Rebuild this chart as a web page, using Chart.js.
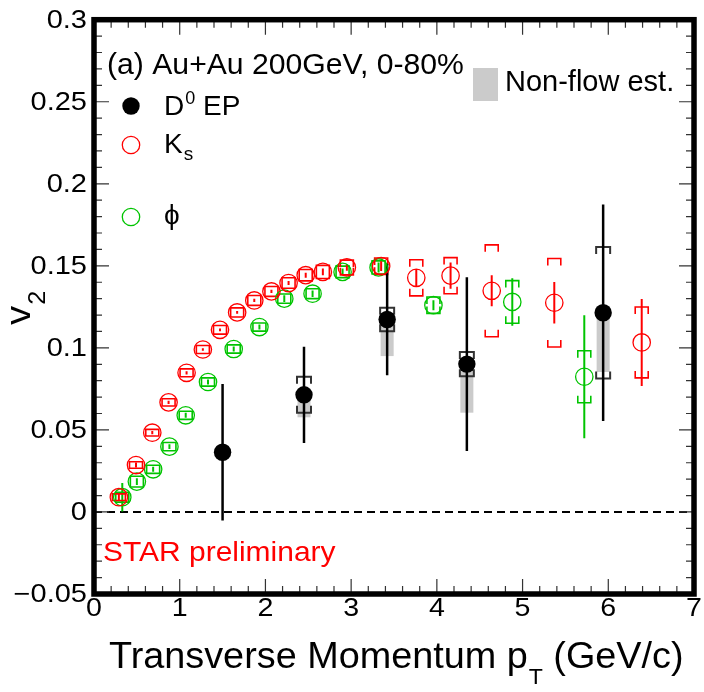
<!DOCTYPE html>
<html>
<head>
<meta charset="utf-8">
<script src="https://cdn.jsdelivr.net/npm/chart.js@4.4.1/dist/chart.umd.min.js"></script>
<style>
    html, body { margin: 0; padding: 0; background: #fff; }
    #wrap { width: 704px; height: 692px; }
</style>
</head>
<body>
<div id="wrap"><canvas id="v2Chart" width="704" height="692"></canvas></div>
<script>
// D0 v2 (event plane method): value, stat error, sys error, non-flow estimate
const d0Pt = [1.50, 2.45, 3.42, 4.35, 5.94];
const d0V2 = [0.0364, 0.0714, 0.1173, 0.0901, 0.1214];
const d0Stat = [0.0416, 0.0293, 0.0340, 0.0530, 0.0660];
const d0Sys = [0, 0.0110, 0.0071, 0.0074, 0.0400];
const d0NonFlow = [0, 0.0137, 0.0223, 0.0296, 0.0361];

// K0s v2
const ksPt = [0.29, 0.49, 0.68, 0.87, 1.08, 1.27, 1.47, 1.67, 1.87, 2.07, 2.27, 2.47, 2.67, 2.95, 3.35, 3.76, 4.16, 4.64, 5.37, 6.39];
const ksV2 = [0.009, 0.0286, 0.0483, 0.0668, 0.0848, 0.099, 0.111, 0.1216, 0.1289, 0.1344, 0.1395, 0.1443, 0.1463, 0.149, 0.1498, 0.1427, 0.144, 0.1348, 0.1275, 0.1033];
const ksStat = [0.002, 0.0015, 0.001, 0.001, 0.001, 0.0008, 0.0008, 0.0008, 0.001, 0.001, 0.0012, 0.0015, 0.002, 0.002, 0.003, 0.0053, 0.008, 0.0094, 0.0127, 0.0265];
const ksSys = [0.002, 0.002, 0.002, 0.0022, 0.0024, 0.0024, 0.0026, 0.0028, 0.003, 0.003, 0.0032, 0.0035, 0.004, 0.0045, 0.005, 0.011, 0.011, 0.028, 0.027, 0.0216];

// phi v2
const phiPt = [0.33, 0.50, 0.69, 0.88, 1.07, 1.33, 1.63, 1.93, 2.22, 2.55, 2.90, 3.32, 3.96, 4.88, 5.72];
const phiV2 = [0.009, 0.0185, 0.026, 0.0398, 0.0589, 0.0792, 0.0993, 0.1127, 0.130, 0.133, 0.1463, 0.149, 0.126, 0.128, 0.0824];
const phiStat = [0.0087, 0.002, 0.0015, 0.0015, 0.0015, 0.0015, 0.0015, 0.0015, 0.002, 0.002, 0.002, 0.003, 0.003, 0.0145, 0.0375];
const phiSys = [0.003, 0.0033, 0.0025, 0.0025, 0.0025, 0.0025, 0.0025, 0.0025, 0.0028, 0.003, 0.0035, 0.004, 0.005, 0.013, 0.0158];

// Axis tick labels
const xTickValues = [0, 1, 2, 3, 4, 5, 6, 7];
const xTickLabels = ['0', '1', '2', '3', '4', '5', '6', '7'];
const yTickValues = [-0.05, 0, 0.05, 0.1, 0.15, 0.2, 0.25, 0.3];
const yTickLabels = ['\u22120.05', '0', '0.05', '0.1', '0.15', '0.2', '0.25', '0.3'];

const FONT = '"Liberation Sans", Arial, Helvetica, sans-serif';
const RED = '#ff0000';
const GREEN = '#00c400';
const GRAY = '#cbcbcb';

// Draw text with a horizontal stretch, returns drawn width
function drawText(ctx, str, x, y, size, opt = {}) {
    const sx = opt.sx || 1;
    ctx.save();
    ctx.font = size + 'px ' + FONT;
    ctx.fillStyle = opt.color || '#000';
    ctx.textAlign = opt.align || 'left';
    ctx.textBaseline = opt.baseline || 'alphabetic';
    ctx.translate(x, y);
    ctx.scale(sx, 1);
    ctx.fillText(str, 0, 0);
    const w = ctx.measureText(str).width * sx;
    ctx.restore();
    return w;
}

// Error bars, sys brackets, non-flow boxes and the zero line
const errorPlugin = {
    id: 'errorBars',
    beforeDatasetsDraw(chart) {
        const ctx = chart.ctx;
        const xs = chart.scales.x, ys = chart.scales.y;
        const area = chart.chartArea;

        ctx.save();
        ctx.beginPath();
        ctx.rect(area.left, area.top, area.right - area.left, area.bottom - area.top);
        ctx.clip();

        // dashed line at v2 = 0
        ctx.strokeStyle = '#000';
        ctx.lineWidth = 2;
        ctx.setLineDash([8, 5]);
        ctx.beginPath();
        ctx.moveTo(xs.getPixelForValue(0), ys.getPixelForValue(0));
        ctx.lineTo(xs.getPixelForValue(7), ys.getPixelForValue(0));
        ctx.stroke();
        ctx.setLineDash([]);

        // non-flow estimate boxes (below D0 points)
        ctx.fillStyle = GRAY;
        d0Pt.forEach((pt, i) => {
            if (!d0NonFlow[i]) return;
            const px = xs.getPixelForValue(pt);
            const y1 = ys.getPixelForValue(d0V2[i]);
            const y2 = ys.getPixelForValue(d0V2[i] - d0NonFlow[i]);
            ctx.fillRect(px - 6.5, y1, 13, y2 - y1);
        });

        function statBars(pts, vals, errs, color, width) {
            ctx.strokeStyle = color;
            ctx.lineWidth = width;
            ctx.beginPath();
            pts.forEach((pt, i) => {
                const px = xs.getPixelForValue(pt);
                ctx.moveTo(px, ys.getPixelForValue(vals[i] + errs[i]));
                ctx.lineTo(px, ys.getPixelForValue(vals[i] - errs[i]));
            });
            ctx.stroke();
        }

        function brackets(pts, vals, errs, color, width, half) {
            ctx.strokeStyle = color;
            ctx.lineWidth = width;
            ctx.beginPath();
            pts.forEach((pt, i) => {
                if (!errs[i]) return;
                const px = xs.getPixelForValue(pt);
                const yc = ys.getPixelForValue(vals[i]);
                const yt = ys.getPixelForValue(vals[i] + errs[i]);
                const yb = ys.getPixelForValue(vals[i] - errs[i]);
                const leg = Math.min(7, yc - yt);
                ctx.moveTo(px - half, yt + leg);
                ctx.lineTo(px - half, yt);
                ctx.lineTo(px + half, yt);
                ctx.lineTo(px + half, yt + leg);
                ctx.moveTo(px - half, yb - leg);
                ctx.lineTo(px - half, yb);
                ctx.lineTo(px + half, yb);
                ctx.lineTo(px + half, yb - leg);
            });
            ctx.stroke();
        }

        brackets(phiPt, phiV2, phiSys, GREEN, 1.6, 6.5);
        statBars(phiPt, phiV2, phiStat, GREEN, 2);
        brackets(ksPt, ksV2, ksSys, RED, 1.6, 6.5);
        statBars(ksPt, ksV2, ksStat, RED, 2);
        brackets(d0Pt, d0V2, d0Sys, '#333', 2, 7);
        statBars(d0Pt, d0V2, d0Stat, '#000', 2.5);

        ctx.restore();
    }
};

// Frame, ticks, labels, titles and legend
const framePlugin = {
    id: 'frame',
    afterDraw(chart) {
        const ctx = chart.ctx;
        const xs = chart.scales.x, ys = chart.scales.y;
        const { left: L, right: R, top: T, bottom: B } = chart.chartArea;

        ctx.save();
        // ticks on all four sides
        ctx.strokeStyle = '#333';
        ctx.lineWidth = 1.2;
        ctx.beginPath();
        for (let i = 0; i <= 35; i++) {
            const px = xs.getPixelForValue(i * 0.2);
            const len = i % 5 === 0 ? 15 : 8;
            ctx.moveTo(px, B); ctx.lineTo(px, B - len);
            ctx.moveTo(px, T); ctx.lineTo(px, T + len);
        }
        for (let i = 0; i <= 35; i++) {
            const py = ys.getPixelForValue(-0.05 + i * 0.01);
            const len = i % 5 === 0 ? 15 : 8;
            ctx.moveTo(L, py); ctx.lineTo(L + len, py);
            ctx.moveTo(R, py); ctx.lineTo(R - len, py);
        }
        ctx.stroke();

        // thick frame
        ctx.strokeStyle = '#000';
        ctx.lineWidth = 5.5;
        ctx.strokeRect(L, T, R - L, B - T);

        // tick labels
        xTickValues.forEach((v, i) => {
            drawText(ctx, xTickLabels[i], xs.getPixelForValue(v), 596, 26, { align: 'center', baseline: 'top', sx: 1.1 });
        });
        yTickValues.forEach((v, i) => {
            drawText(ctx, yTickLabels[i], 87, ys.getPixelForValue(v) + 1, 25, { align: 'right', baseline: 'middle', sx: 1.16 });
        });

        // x axis title
        let x = 109;
        x += drawText(ctx, 'Transverse Momentum p', x, 668, 36, { sx: 1.05 });
        x += drawText(ctx, 'T', x + 1, 684, 22, { sx: 1.05 }) + 1;
        drawText(ctx, ' (GeV/c)', x, 668, 36, { sx: 1.05 });

        // y axis title
        ctx.save();
        ctx.translate(30, 325);
        ctx.rotate(-Math.PI / 2);
        const vw = drawText(ctx, 'v', 0, 0, 35, { sx: 1.1 });
        drawText(ctx, '2', vw + 1, 15, 23, { sx: 1.1 });
        ctx.restore();

        // legend
        drawText(ctx, '(a) Au+Au 200GeV, 0-80%', 107, 74, 29, { sx: 1.04 });

        ctx.fillStyle = '#000';
        ctx.beginPath();
        ctx.arc(131, 106, 8.7, 0, Math.PI * 2);
        ctx.fill();
        x = 164;
        x += drawText(ctx, 'D', x, 115, 28);
        x += drawText(ctx, '0', x + 1, 104, 18) + 1;
        drawText(ctx, ' EP', x, 115, 28);

        ctx.lineWidth = 1.3;
        ctx.strokeStyle = RED;
        ctx.beginPath();
        ctx.arc(131, 145, 8.7, 0, Math.PI * 2);
        ctx.stroke();
        x = 164;
        x += drawText(ctx, 'K', x, 153, 28);
        drawText(ctx, 's', x + 1, 160, 19);

        ctx.strokeStyle = GREEN;
        ctx.beginPath();
        ctx.arc(131, 217, 8.7, 0, Math.PI * 2);
        ctx.stroke();
        drawText(ctx, '\u03d5', 164, 224, 28);

        ctx.fillStyle = GRAY;
        ctx.fillRect(473, 68, 25, 33);
        drawText(ctx, 'Non-flow est.', 505, 91, 29);

        drawText(ctx, 'STAR preliminary', 103, 561, 28, { color: RED, sx: 1.07 });
        ctx.restore();
    }
};

function pointsOf(pts, vals) {
    return pts.map((pt, i) => ({ x: pt, y: vals[i] }));
}

const chart = new Chart(document.getElementById('v2Chart'), {
    type: 'scatter',
    data: {
        datasets: [
            {
                label: 'D0 EP',
                data: pointsOf(d0Pt, d0V2),
                pointStyle: 'circle',
                pointRadius: 8.7,
                backgroundColor: '#000',
                borderColor: '#000',
                pointBorderWidth: 0
            },
            {
                label: 'Ks',
                data: pointsOf(ksPt, ksV2),
                pointStyle: 'circle',
                pointRadius: 8.7,
                backgroundColor: 'rgba(0,0,0,0)',
                borderColor: RED,
                pointBorderWidth: 1.3
            },
            {
                label: 'phi',
                data: pointsOf(phiPt, phiV2),
                pointStyle: 'circle',
                pointRadius: 8.7,
                backgroundColor: 'rgba(0,0,0,0)',
                borderColor: GREEN,
                pointBorderWidth: 1.3
            }
        ]
    },
    options: {
        responsive: false,
        animation: false,
        events: [],
        layout: { padding: { left: 94, right: 8, top: 19.7, bottom: 98 } },
        plugins: { legend: { display: false }, tooltip: { enabled: false } },
        scales: {
            x: { type: 'linear', min: 0, max: 7, display: false },
            y: { type: 'linear', min: -0.05, max: 0.3, display: false }
        }
    },
    plugins: [errorPlugin, framePlugin]
});
</script>
</body>
</html>
